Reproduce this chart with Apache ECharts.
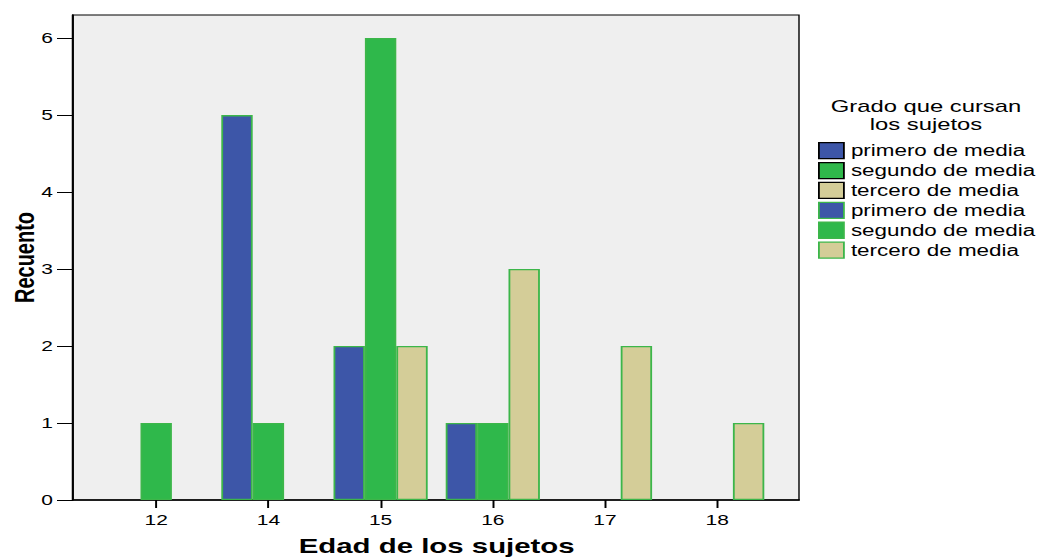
<!DOCTYPE html>
<html>
<head>
<meta charset="utf-8">
<script src="https://cdn.jsdelivr.net/npm/echarts@6/dist/echarts.min.js"></script>
<style>
html,body{margin:0;padding:0;background:#fff;overflow:hidden;width:1037px;height:558px;}
#wrap{position:absolute;left:0;top:0;transform-origin:0 0;}
</style>
</head>
<body>
<div id="wrap"></div>
<script>
// ---- data ----
const categories = ['12', '14', '15', '16', '17', '18'];
const primero = [0, 5, 2, 1, 0, 0];
const segundo = [1, 1, 6, 1, 0, 0];
const tercero = [0, 0, 2, 3, 2, 1];
const yTicks = [0, 1, 2, 3, 4, 5, 6];
const groupLabels = ['primero de media', 'segundo de media', 'tercero de media'];
const legendTitle = 'Grado que cursan\nlos sujetos';
const xTitle = 'Edad de los sujetos';
const yTitle = 'Recuento';

// ---- styling ----
const S = 1.4;                // horizontal stretch of the reference picture
const W = 1037 / S, H = 558;
const wrap = document.getElementById('wrap');
wrap.style.width = W + 'px';
wrap.style.height = H + 'px';
wrap.style.transform = 'scaleX(' + S + ')';

const FONT = '"Liberation Sans", Arial, sans-serif';
const colors = ['#3d56a8', '#2fb84b', '#d4cd98'];
const greenBorder = '#3cb64a';

const px = v => v / S;  // convert reference x to chart x

const plotLeft = px(73), plotRight = px(799);
const tickFirst = px(156.2), catW = px(112.2);
const catLeft = tickFirst - catW / 2;
const catWidth = catW * categories.length;

const values = [primero, segundo, tercero];
const series = [];
const legendData = [];
const labelOf = {};
for (let i = 0; i < 3; i++) {
  const id = 'A' + i;
  labelOf[id] = groupLabels[i];
  series.push({
    type: 'bar', name: id, xAxisIndex: 0, yAxisIndex: 0, data: [],
    itemStyle: { color: colors[i], borderColor: '#000', borderWidth: 1.3 }
  });
  legendData.push({ name: id, itemStyle: { color: colors[i], borderColor: '#000', borderWidth: 1.3 } });
}
for (let i = 0; i < 3; i++) {
  const id = 'B' + i;
  labelOf[id] = groupLabels[i];
  series.push({
    type: 'bar', name: id, xAxisIndex: 1, yAxisIndex: 1,
    data: values[i].map(v => v === 0 ? '-' : v),
    barWidth: px(31.4), barGap: '0%',
    itemStyle: { color: colors[i], borderColor: greenBorder, borderWidth: 1.3 }
  });
  legendData.push({ name: id, itemStyle: { color: colors[i], borderColor: greenBorder, borderWidth: 1.3 } });
}

const chart = echarts.init(wrap, null, { renderer: 'svg', width: W, height: H });
chart.setOption({
  animation: false,
  backgroundColor: '#fff',
  textStyle: { fontFamily: FONT, color: '#000' },
  grid: [
    { left: plotLeft, top: 15, width: plotRight - plotLeft, height: 485,
      outerBoundsMode: 'none', containLabel: false,
      show: true, backgroundColor: '#efefef', borderColor: '#000', borderWidth: 1 },
    { left: catLeft, top: 15, width: catWidth, height: 485,
      outerBoundsMode: 'none', containLabel: false }
  ],
  xAxis: [
    { gridIndex: 0, type: 'category', data: categories,
      axisLine: { show: true, lineStyle: { color: '#000', width: 1.5 } },
      axisTick: { show: false }, axisLabel: { show: false }, splitLine: { show: false } },
    { gridIndex: 1, type: 'category', data: categories,
      axisLine: { show: false },
      axisTick: { show: true, alignWithLabel: true, length: 8, lineStyle: { color: '#000', width: 1.4 } },
      axisLabel: { fontSize: 15, color: '#000', margin: 12, fontFamily: FONT },
      name: xTitle, nameLocation: 'middle', nameGap: 35, nameMoveOverlap: false,
      nameTextStyle: { fontSize: 21, fontWeight: 'bold', color: '#000', fontFamily: FONT } }
  ],
  yAxis: [
    { gridIndex: 0, type: 'value', min: 0, max: 6.3,
      axisLine: { show: true, lineStyle: { color: '#000', width: 1.5 } },
      axisTick: { show: true, customValues: yTicks, length: px(16), lineStyle: { color: '#000', width: 1 } },
      axisLabel: { customValues: yTicks, fontSize: 15, color: '#000', margin: px(20), fontFamily: FONT },
      splitLine: { show: false },
      name: yTitle, nameLocation: 'middle', nameGap: 25, nameMoveOverlap: false,
      nameTextStyle: { fontSize: 20, fontWeight: 'bold', color: '#000', fontFamily: FONT } },
    { gridIndex: 1, type: 'value', min: 0, max: 6.3, show: false, splitLine: { show: false } }
  ],
  legend: {
    orient: 'vertical', left: px(818), top: 142, padding: 0,
    icon: 'rect', itemWidth: px(25), itemHeight: 16, itemGap: 2.6,
    selectedMode: false,
    data: legendData,
    formatter: name => labelOf[name],
    textStyle: { fontSize: 16, color: '#000', fontFamily: FONT }
  },
  graphic: [
    { type: 'text', x: px(926), y: 97,
      style: { text: legendTitle, fontSize: 17, fontFamily: FONT, fill: '#000',
               align: 'center', verticalAlign: 'top', lineHeight: 18 } }
  ],
  series: series
});
</script>
</body>
</html>
